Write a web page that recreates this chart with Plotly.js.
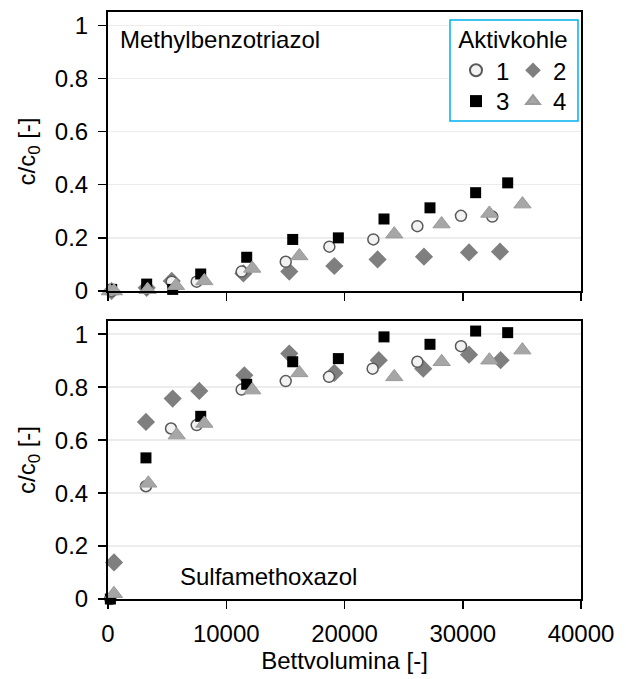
<!DOCTYPE html>
<html>
<head>
<meta charset="utf-8">
<script src="https://cdn.plot.ly/plotly-3.0.1.min.js"></script>
<style>
html,body{margin:0;padding:0;background:#fff;}
#chart{width:626px;height:679px;}
</style>
</head>
<body>
<div id="chart"></div>
<script>
// ---- Data: Methylbenzotriazol (top panel) ----
var mbt_bv_1 = [300, 3270, 5390, 7500, 11300, 15030, 18720, 22440, 26160, 29850, 32500];
var mbt_c_1  = [0, 0.01, 0.035, 0.035, 0.073, 0.11, 0.167, 0.194, 0.244, 0.283, 0.28];
var mbt_bv_2 = [300, 3270, 5390, 11450, 15330, 19140, 22800, 26720, 30530, 33150];
var mbt_c_2  = [0, 0.012, 0.038, 0.066, 0.073, 0.094, 0.119, 0.129, 0.145, 0.148];
var mbt_bv_3 = [310, 3270, 5470, 7840, 11730, 15620, 19480, 23340, 27230, 31090, 33800];
var mbt_c_3  = [0.006, 0.026, 0.006, 0.064, 0.127, 0.194, 0.2, 0.271, 0.313, 0.37, 0.407];
var mbt_bv_4 = [150, 500, 3350, 5750, 8150, 12200, 16180, 24210, 28210, 32250, 35050];
var mbt_c_4  = [0, 0, 0.005, 0.02, 0.038, 0.085, 0.132, 0.214, 0.252, 0.292, 0.327];

// ---- Data: Sulfamethoxazol (bottom panel) ----
var smx_bv_1 = [200, 3210, 5330, 7500, 11300, 15030, 18690, 22380, 26160, 29850];
var smx_c_1  = [0, 0.426, 0.644, 0.657, 0.791, 0.823, 0.839, 0.870, 0.896, 0.955];
var smx_bv_2 = [510, 3210, 5470, 7720, 11530, 15330, 19140, 22900, 26660, 30530, 33200];
var smx_c_2  = [0.138, 0.669, 0.757, 0.786, 0.845, 0.927, 0.854, 0.902, 0.870, 0.923, 0.902];
var smx_bv_3 = [200, 3210, 7840, 11730, 15620, 19480, 23340, 27230, 31090, 33800];
var smx_c_3  = [0, 0.533, 0.69, 0.811, 0.896, 0.908, 0.99, 0.962, 1.012, 1.006];
var smx_bv_4 = [150, 500, 3410, 5810, 8150, 12200, 16180, 24210, 28220, 32250, 35040];
var smx_c_4  = [-0.01, 0.02, 0.437, 0.619, 0.663, 0.789, 0.854, 0.839, 0.896, 0.902, 0.94];

var seriesNames = ["1", "2", "3", "4"];
var xTicks = [0, 10000, 20000, 30000, 40000];
var yTicks = [0, 0.2, 0.4, 0.6, 0.8, 1];

var FONT = "Arial, 'Liberation Sans', sans-serif";
var FS = 24;

var markers = {
  "1": {symbol: "circle", size: 11, color: "#f2f2f2", line: {color: "#595959", width: 1.5}},
  "2": {symbol: "diamond", size: 14, color: "#7f7f7f", line: {width: 0}},
  "3": {symbol: "square", size: 11, color: "#000000", line: {width: 0}},
  "4": {symbol: "triangle-up", size: 15, color: "#a6a6a6", line: {color: "#9a9a9a", width: 1}}
};

function tr(x, y, name, xa, ya, show, leg) {
  return {
    type: "scatter", mode: "markers", x: x, y: y, name: name,
    xaxis: xa, yaxis: ya, showlegend: show, legend: leg,
    cliponaxis: false, marker: markers[name], hoverinfo: "x+y"
  };
}

// draw order: 2, 1, 3, 4
var data = [
  tr(mbt_bv_2, mbt_c_2, seriesNames[1], "x2", "y2", true, "legend"),
  tr(mbt_bv_1, mbt_c_1, seriesNames[0], "x2", "y2", true, "legend"),
  tr(mbt_bv_3, mbt_c_3, seriesNames[2], "x2", "y2", true, "legend2"),
  tr(mbt_bv_4, mbt_c_4, seriesNames[3], "x2", "y2", true, "legend2"),
  tr(smx_bv_2, smx_c_2, seriesNames[1], "x", "y", false, "legend"),
  tr(smx_bv_1, smx_c_1, seriesNames[0], "x", "y", false, "legend"),
  tr(smx_bv_3, smx_c_3, seriesNames[2], "x", "y", false, "legend2"),
  tr(smx_bv_4, smx_c_4, seriesNames[3], "x", "y", false, "legend2")
];
data[1].legendrank = 1; data[0].legendrank = 2;
data[2].legendrank = 3; data[3].legendrank = 4;

var tickFont = {family: FONT, size: FS, color: "#000"};

function xax(showLabels, anchor) {
  return {
    range: [0, 40000], tickvals: xTicks, ticktext: xTicks.map(String),
    showgrid: false, zeroline: false, showline: true, linecolor: "#000", linewidth: 2,
    mirror: true, ticks: "outside", ticklen: 8, tickwidth: 1.5, tickcolor: "#000",
    showticklabels: showLabels, tickfont: tickFont, anchor: anchor, fixedrange: true,
    ticklabelstandoff: 4
  };
}
function yax(domain, anchor) {
  return {
    domain: domain, range: [0, 1.05], tickvals: yTicks, ticktext: yTicks.map(String),
    showgrid: true, gridcolor: "#ececec", gridwidth: 1.5, zeroline: false,
    showline: true, linecolor: "#000", linewidth: 2, mirror: true,
    ticks: "outside", ticklen: 8, tickwidth: 1.5, tickcolor: "#000",
    tickfont: tickFont, anchor: anchor, fixedrange: true, ticklabelstandoff: 5,
    title: {text: "c/c<sub>0</sub> [-]", font: {family: FONT, size: FS, color: "#000"}, standoff: 12}
  };
}

function px2x(px) { return (px - 108) / 473; }
function px2y(py) { return (599 - py) / 587; }

var legendCommon = {
  xanchor: "left", yanchor: "top", orientation: "h",
  entrywidth: 12, entrywidthmode: "pixels", itemsizing: "constant",
  bgcolor: "rgba(255,255,255,0)", borderwidth: 0,
  font: {family: FONT, size: FS, color: "#000"}, itemwidth: 30
};

var layout = {
  width: 626, height: 679,
  margin: {l: 108, r: 45, t: 12, b: 80, autoexpand: false},
  paper_bgcolor: "#fff", plot_bgcolor: "#fff",
  font: {family: FONT, size: FS, color: "#000"},
  xaxis: Object.assign(xax(true, "y"), {title: {text: "Bettvolumina [-]", font: {family: FONT, size: FS, color: "#000"}, standoff: 6}}),
  yaxis: yax([0, 0.4736], "x"),
  xaxis2: xax(false, "y2"),
  yaxis2: yax([0.5247, 1], "x2"),
  showlegend: true,
  legend: Object.assign({}, legendCommon, {
    x: px2x(456), y: px2y(17),
    title: {text: "Aktivkohle", side: "top center", font: {family: FONT, size: FS, color: "#000"}}
  }),
  legend2: Object.assign({}, legendCommon, {
    x: px2x(456), y: px2y(79)
  }),
  shapes: [
    {type: "rect", xref: "paper", yref: "paper",
     x0: px2x(450), x1: px2x(578), y0: px2y(121), y1: px2y(20),
     line: {color: "#00b0f0", width: 1.5}, fillcolor: "#ffffff", layer: "above"}
  ],
  annotations: [
    {text: "Methylbenzotriazol", xref: "x2 domain", yref: "paper", x: 0.021, y: px2y(39),
     xanchor: "left", yanchor: "middle", showarrow: false, font: {family: FONT, size: FS, color: "#000"}},
    {text: "Sulfamethoxazol", xref: "x domain", yref: "paper", x: 0.148, y: px2y(576),
     xanchor: "left", yanchor: "middle", showarrow: false, font: {family: FONT, size: FS, color: "#000"}}
  ]
};

Plotly.newPlot("chart", data, layout, {displayModeBar: false, staticPlot: true});
</script>
</body>
</html>
